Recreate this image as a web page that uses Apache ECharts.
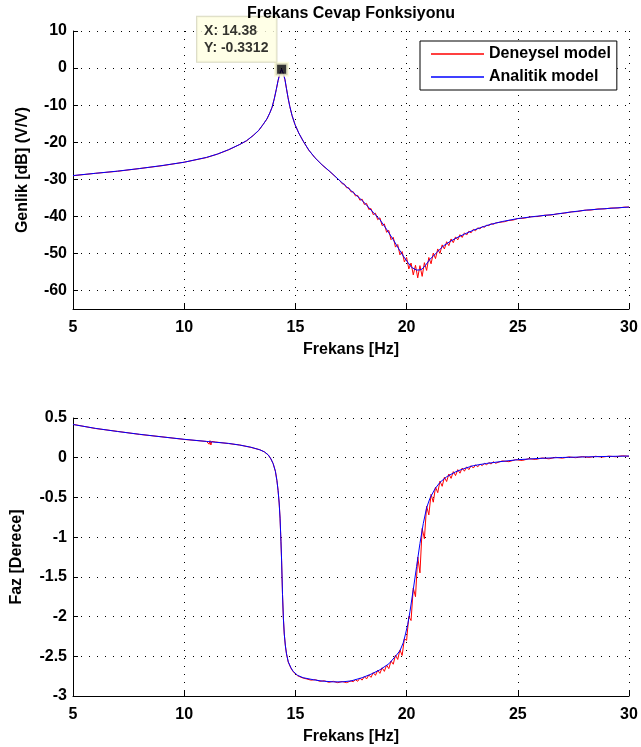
<!DOCTYPE html>
<html>
<head>
<meta charset="utf-8">
<title>Frekans Cevap Fonksiyonu</title>
<script src="https://cdn.jsdelivr.net/npm/echarts@6/dist/echarts.min.js"></script>
<style>
  html, body { margin: 0; padding: 0; background: #ffffff; }
  #chart { width: 641px; height: 747px; }
</style>
</head>
<body>
<div id="chart"></div>
<script>
// ---- Genlik (dB), analitik model ----
const magFreqAnalytic = [5, 6, 7, 8, 9, 10, 11, 11.5, 12, 12.5, 12.8, 13.1, 13.35, 13.55, 13.72, 13.85, 13.95, 14.05, 14.14, 14.22, 14.3, 14.38, 14.46, 14.53, 14.6, 14.67, 14.75, 14.85, 14.98, 15.15, 15.35, 15.6, 15.88, 16.2, 16.55, 17.0, 17.3, 17.7, 18.05, 18.4, 18.8, 19.1, 19.4, 19.65, 19.85, 20.05, 20.23, 20.45, 20.6, 20.7, 20.85, 21.05, 21.35, 21.65, 21.95, 22.25, 22.6, 23.0, 23.4, 23.75, 24.3, 25.0, 25.8, 26.6, 27.3, 28.1, 29.0, 30.0];
const magAnalytic = [-29.0, -28.4, -27.8, -27.1, -26.3, -25.4, -24.1, -23.2, -22.0, -20.6, -19.6, -18.2, -16.8, -15.2, -13.7, -12.1, -10.6, -8.3, -5.8, -3.4, -1.5, -0.3312, -1.5, -3.1, -5.6, -8.0, -10.4, -12.8, -15.2, -17.5, -19.7, -22.1, -24.2, -26.1, -27.9, -30.4, -32.0, -34.1, -36.0, -38.3, -40.9, -43.5, -46.3, -48.8, -50.7, -52.4, -53.8, -54.5, -54.45, -54.2, -53.2, -51.6, -49.8, -48.0, -46.8, -45.8, -44.8, -43.75, -42.9, -42.2, -41.4, -40.6, -40.0, -39.5, -38.9, -38.3, -37.9, -37.5];

// ---- Genlik (dB), deneysel model ----
const magFreqExperimental = [5, 6, 7, 8, 9, 10, 11, 11.5, 12, 12.5, 12.8, 13.1, 13.35, 13.55, 13.72, 13.85, 13.95, 14.05, 14.14, 14.22, 14.3, 14.38, 14.46, 14.53, 14.6, 14.67, 14.75, 14.85, 14.98, 15.15, 15.35, 15.6, 15.88, 16.2, 16.55,
  17.0, 17.1, 17.2, 17.3, 17.4, 17.5, 17.6, 17.7, 17.8, 17.9, 18.0, 18.1, 18.2, 18.3, 18.4, 18.5, 18.6, 18.7, 18.8, 18.9,
  19.0, 19.1, 19.2, 19.3, 19.4, 19.5, 19.6, 19.7, 19.8, 19.9, 20.0, 20.1, 20.2, 20.3, 20.4, 20.5, 20.6, 20.7, 20.8, 20.9,
  21.0, 21.1, 21.2, 21.3, 21.4, 21.5, 21.6, 21.7, 21.8, 21.9, 22.0, 22.1, 22.2, 22.3, 22.4, 22.5, 22.6, 22.7, 22.8, 22.9,
  23.0, 23.1, 23.2, 23.3, 23.4, 23.5, 23.6, 23.7, 23.8, 23.9, 24.0, 24.2, 24.4, 24.6, 24.8, 25.0, 25.3, 25.6, 25.9, 26.2,
  26.5, 26.8, 27.1, 27.4, 27.7, 28.0, 28.3, 28.6, 28.9, 29.2, 29.5, 29.8, 30.0];
const magExperimental = [-29.05, -28.4, -27.85, -27.1, -26.35, -25.4, -24.15, -23.2, -22.05, -20.6, -19.65, -18.2, -16.85, -15.2, -13.75, -12.1, -10.6, -8.3, -5.8, -3.4, -1.5, -0.3312, -1.5, -3.1, -5.6, -8.0, -10.4, -12.85, -15.2, -17.55, -19.7, -22.15, -24.2, -26.15, -27.95,
  -30.4, -31.2, -31.3, -32.3, -32.3, -33.4, -33.35, -34.5, -34.35, -35.65, -35.35, -36.8, -36.5, -38.15, -37.9, -39.55, -39.15, -40.9, -40.4, -42.5,
  -42.05, -44.3, -43.8, -46.3, -45.65, -48.3, -47.6, -50.4, -49.5, -52.3, -51.1, -54.2, -52.6, -55.8, -53.2, -56.6, -53.3, -56.2, -52.5, -54.6,
  -51.1, -52.8, -49.9, -51.4, -48.8, -50.0, -47.7, -48.8, -46.85, -47.9, -46.1, -47.1, -45.55, -46.35, -44.95, -45.7, -44.45, -45.05, -44.0, -44.45,
  -43.5, -43.9, -43.1, -43.4, -42.75, -42.95, -42.4, -42.5, -42.0, -42.15, -41.8, -41.6, -41.45, -41.1, -41.0, -40.6, -40.5, -40.1, -40.05, -39.7,
  -39.65, -39.3, -39.15, -38.8, -38.7, -38.35, -38.3, -38.0, -38.0, -37.75, -37.75, -37.5, -37.5];

// ---- Faz, analitik model ----
const phaseFreqAnalytic = [5, 6, 7, 8, 9, 10, 11, 12, 12.5, 13, 13.4, 13.6, 13.78, 13.9, 14.0, 14.1, 14.17, 14.22, 14.27, 14.31, 14.35, 14.38, 14.42, 14.46, 14.5, 14.55, 14.6, 14.68, 14.8, 14.9, 15.1, 15.35, 15.8, 16.2, 16.7, 17.1, 17.5, 18.0, 18.4, 18.8, 19.2, 19.5, 19.7, 19.85, 19.95, 20.05, 20.15, 20.3, 20.45, 20.6, 20.75, 20.9, 21.05, 21.28, 21.5, 21.8, 22.2, 22.55, 23.0, 23.6, 24.2, 25.0, 26.0, 27.0, 28.0, 29.0, 30.0];
const phaseAnalytic = [0.418, 0.37, 0.33, 0.295, 0.262, 0.232, 0.205, 0.18, 0.159, 0.132, 0.10, 0.075, 0.035, -0.015, -0.075, -0.17, -0.29, -0.41, -0.57, -0.76, -1.05, -1.3, -1.72, -2.02, -2.22, -2.37, -2.47, -2.57, -2.645, -2.69, -2.74, -2.77, -2.795, -2.812, -2.822, -2.822, -2.81, -2.77, -2.725, -2.67, -2.595, -2.5, -2.43, -2.33, -2.22, -2.10, -1.94, -1.66, -1.37, -1.08, -0.83, -0.63, -0.51, -0.39, -0.31, -0.24, -0.178, -0.14, -0.10, -0.072, -0.05, -0.025, -0.008, 0.003, 0.01, 0.016, 0.021];

// ---- Faz, deneysel model ----
const phaseFreqExperimental = [5, 6, 7, 8, 9, 10, 11, 11.08, 11.12, 11.16, 11.2, 11.24, 11.28, 11.32, 11.4, 12, 12.5, 13, 13.4, 13.6, 13.78, 13.9, 14.0, 14.1, 14.17, 14.22, 14.27, 14.31, 14.35, 14.38, 14.42, 14.46, 14.5, 14.55, 14.6, 14.68, 14.8, 14.9, 15.1, 15.3,
  15.5, 15.7, 15.9, 16.1, 16.3, 16.5, 16.7, 16.9, 17.1, 17.3, 17.5, 17.6, 17.7, 17.8, 17.9, 18.0, 18.1, 18.2, 18.3, 18.4, 18.5, 18.6, 18.7, 18.8, 18.9,
  19.0, 19.1, 19.2, 19.3, 19.4, 19.5, 19.6, 19.7, 19.8, 19.9, 20.0, 20.1, 20.2, 20.3, 20.4, 20.5, 20.6, 20.7, 20.8, 20.9,
  21.0, 21.1, 21.2, 21.3, 21.4, 21.5, 21.6, 21.7, 21.8, 21.9, 22.0, 22.1, 22.2, 22.3, 22.4, 22.5, 22.6, 22.7, 22.8, 22.9,
  23.0, 23.1, 23.2, 23.3, 23.4, 23.5, 23.6, 23.7, 23.8, 23.9, 24.0, 24.3, 24.6, 24.9, 25.2, 25.5, 25.8, 26.1, 26.4, 26.7,
  27.0, 27.3, 27.6, 27.9, 28.2, 28.5, 28.8, 29.1, 29.4, 29.7, 30.0];
const phaseExperimental = [0.42, 0.368, 0.332, 0.293, 0.263, 0.23, 0.205, 0.21, 0.17, 0.215, 0.16, 0.205, 0.18, 0.2, 0.198, 0.178, 0.16, 0.13, 0.1, 0.074, 0.034, -0.016, -0.075, -0.17, -0.29, -0.41, -0.57, -0.76, -1.05, -1.3, -1.72, -2.02, -2.22, -2.37, -2.47, -2.575, -2.65, -2.695, -2.745, -2.77,
  -2.785, -2.8, -2.795, -2.815, -2.808, -2.828, -2.815, -2.832, -2.818, -2.832, -2.81, -2.82, -2.795, -2.815, -2.775, -2.80, -2.755, -2.785, -2.735, -2.765, -2.705, -2.74, -2.675, -2.715, -2.645,
  -2.69, -2.61, -2.655, -2.56, -2.60, -2.485, -2.54, -2.42, -2.49, -2.28, -2.30, -2.00, -2.05, -1.64, -1.75, -1.25, -1.45, -0.89, -1.02, -0.61,
  -0.72, -0.46, -0.56, -0.37, -0.44, -0.295, -0.36, -0.245, -0.30, -0.205, -0.26, -0.175, -0.225, -0.15, -0.195, -0.13, -0.17, -0.115, -0.15, -0.10,
  -0.13, -0.09, -0.115, -0.08, -0.10, -0.07, -0.09, -0.06, -0.08, -0.05, -0.07, -0.04, -0.05, -0.025, -0.035, -0.012, -0.022, -0.003, -0.014, 0.005,
  -0.006, 0.01, 0.0, 0.014, 0.004, 0.018, 0.008, 0.02, 0.012, 0.024, 0.018];

// ---- eksen ve etiketler ----
const magTicks = [-60, -50, -40, -30, -20, -10, 0, 10];
const peakFreq = 14.38;
const peakMag = -0.3312;
const seriesNames = ['Deneysel model', 'Analitik model'];

const zip = (xs, ys) => xs.map((x, i) => [x, ys[i]]);

const FONT = '"Liberation Sans", Arial, Helvetica, sans-serif';
const boldText = { fontFamily: FONT, fontWeight: 'bold', fontSize: 16, color: '#000' };
const dotted = { color: '#000', width: 1, type: [1, 7] };

function xAxisFor(gridIndex) {
  return {
    type: 'value', gridIndex, min: 5, max: 30, interval: 5,
    name: 'Frekans [Hz]', nameLocation: 'middle', nameGap: 33,
    nameTextStyle: boldText,
    axisLine: { show: true, onZero: false, lineStyle: { color: '#000', width: 1 } },
    axisTick: { show: true, inside: true, length: 5, lineStyle: { color: '#000' } },
    axisLabel: Object.assign({ margin: 11 }, boldText),
    splitLine: { show: true, lineStyle: dotted }
  };
}

const chart = echarts.init(document.getElementById('chart'), null, { renderer: 'canvas' });

chart.setOption({
  animation: false,
  backgroundColor: '#ffffff',
  title: {
    text: 'Frekans Cevap Fonksiyonu',
    left: 351, top: 6, textAlign: 'center', padding: 0,
    textStyle: boldText
  },
  legend: {
    data: seriesNames,
    orient: 'vertical',
    left: 420, top: 41,
    padding: [3, 6, 3, 11],
    itemGap: 3,
    icon: 'rect',
    itemWidth: 53, itemHeight: 1.5,
    backgroundColor: '#ffffff',
    borderColor: '#000', borderWidth: 1, borderRadius: 0,
    textStyle: Object.assign({ lineHeight: 20 }, boldText),
    selectedMode: false
  },
  grid: [
    { left: 73, top: 31, width: 556, height: 278 },
    { left: 73, top: 418, width: 556, height: 278 }
  ],
  xAxis: [xAxisFor(0), xAxisFor(1)],
  yAxis: [
    {
      type: 'value', gridIndex: 0, min: -65, max: 10,
      name: 'Genlik [dB] (V/V)', nameLocation: 'middle', nameGap: 42,
      nameTextStyle: boldText,
      axisLine: { show: true, onZero: false, lineStyle: { color: '#000', width: 1 } },
      axisTick: { show: true, inside: true, length: 5, customValues: magTicks, lineStyle: { color: '#000' } },
      axisLabel: Object.assign({ margin: 6, customValues: magTicks }, boldText),
      splitLine: { show: true, lineStyle: dotted }
    },
    {
      type: 'value', gridIndex: 1, min: -3, max: 0.5, interval: 0.5,
      name: 'Faz [Derece]', nameLocation: 'middle', nameGap: 48,
      nameTextStyle: boldText,
      axisLine: { show: true, onZero: false, lineStyle: { color: '#000', width: 1 } },
      axisTick: { show: true, inside: true, length: 5, lineStyle: { color: '#000' } },
      axisLabel: Object.assign({ margin: 6 }, boldText),
      splitLine: { show: true, lineStyle: dotted }
    }
  ],
  series: [
    {
      name: seriesNames[0], type: 'line', xAxisIndex: 0, yAxisIndex: 0,
      data: zip(magFreqExperimental, magExperimental),
      symbol: 'none', lineStyle: { color: '#ff0000', width: 1 }, itemStyle: { color: '#ff0000' }
    },
    {
      name: seriesNames[1], type: 'line', xAxisIndex: 0, yAxisIndex: 0,
      data: zip(magFreqAnalytic, magAnalytic),
      symbol: 'none', lineStyle: { color: '#0000ff', width: 1 }, itemStyle: { color: '#0000ff' }
    },
    {
      name: 'peak', type: 'scatter', xAxisIndex: 0, yAxisIndex: 0, z: 5,
      data: [[peakFreq, peakMag]],
      symbol: 'rect', symbolSize: 12,
      itemStyle: { color: '#000', borderColor: '#fbfbd8', borderWidth: 3 },
      label: {
        show: true,
        position: [-77, -45],
        align: 'left', verticalAlign: 'top',
        formatter: () => 'X: ' + peakFreq.toFixed(2) + '\nY: ' + peakMag.toFixed(4),
        fontFamily: FONT, fontWeight: 'bold', fontSize: 14, lineHeight: 17, color: '#000',
        backgroundColor: '#ffffe1', borderColor: '#cfcfb4', borderWidth: 1,
        padding: [6, 8, 5, 7]
      }
    },
    {
      name: seriesNames[0], type: 'line', xAxisIndex: 1, yAxisIndex: 1,
      data: zip(phaseFreqExperimental, phaseExperimental),
      symbol: 'none', lineStyle: { color: '#ff0000', width: 1 }, itemStyle: { color: '#ff0000' }
    },
    {
      name: seriesNames[1], type: 'line', xAxisIndex: 1, yAxisIndex: 1,
      data: zip(phaseFreqAnalytic, phaseAnalytic),
      symbol: 'none', lineStyle: { color: '#0000ff', width: 1 }, itemStyle: { color: '#0000ff' }
    }
  ]
});
</script>
</body>
</html>
